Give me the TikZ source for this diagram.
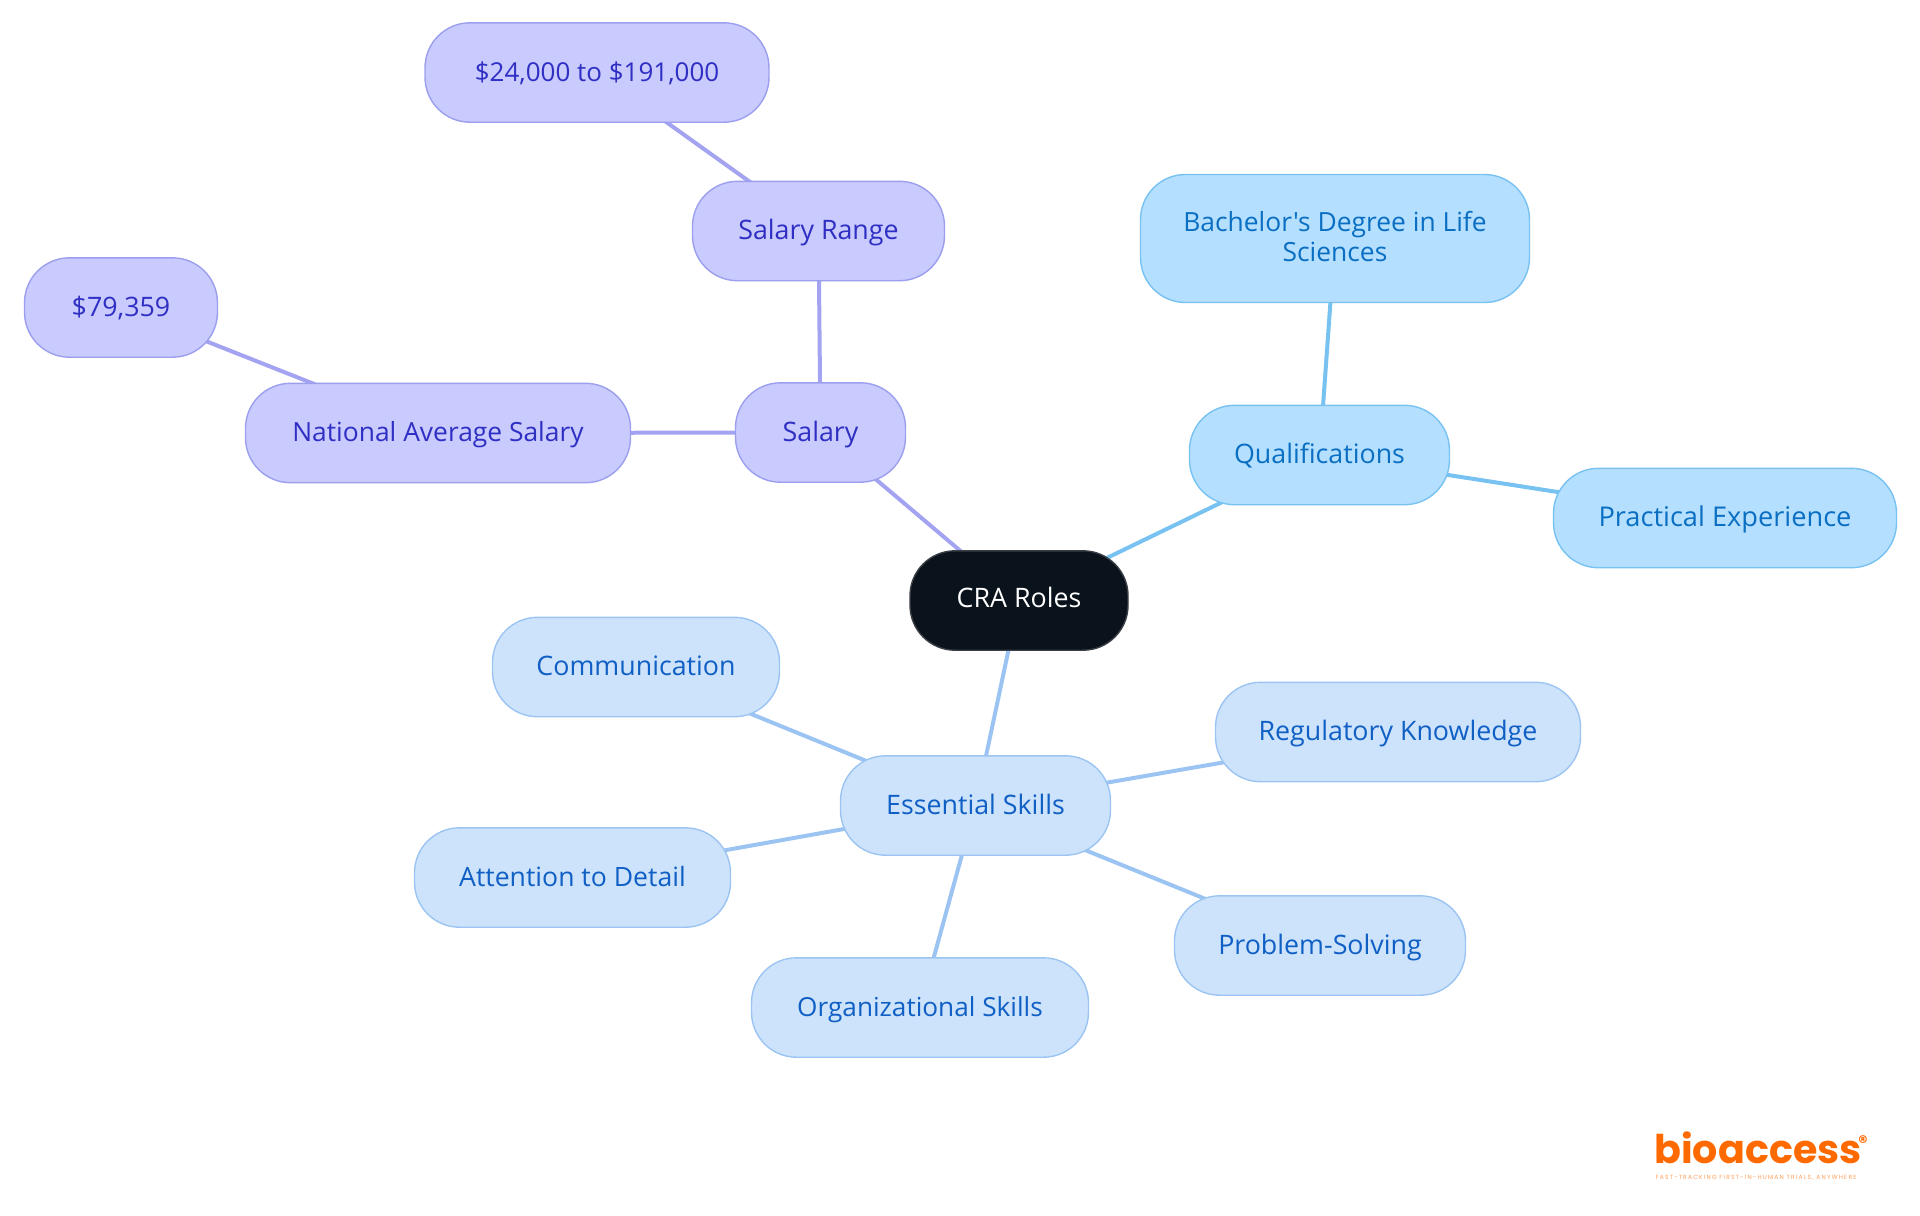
\documentclass[tikz,border=0pt]{standalone}
\usepackage{fontspec}
\newfontfamily\mapfont{Open Sans}
\newfontfamily\logofont{Poppins}
\newfontfamily\tagfont[LetterSpace=20]{Poppins}
\usetikzlibrary{backgrounds}
\definecolor{rootfill}{HTML}{0A121B}
\definecolor{rootline}{HTML}{3A3F46}
\definecolor{payfill}{HTML}{C9CAFD}
\definecolor{payline}{HTML}{9B9FEE}
\definecolor{paytext}{HTML}{2F2FC4}
\definecolor{payedge}{HTML}{A3A3F2}
\definecolor{qualfill}{HTML}{B4DFFF}
\definecolor{qualline}{HTML}{78C2F2}
\definecolor{qualtext}{HTML}{0A6FC2}
\definecolor{qualedge}{HTML}{78C2F2}
\definecolor{skillfill}{HTML}{CDE3FC}
\definecolor{skillline}{HTML}{9CC4F2}
\definecolor{skilltext}{HTML}{0F5FC4}
\definecolor{skilledge}{HTML}{9CC4F2}
\definecolor{logoorange}{HTML}{FF6A00}
\tikzset{
	fontpt/.style={font=\mapfont\fontsize{#1}{15}\selectfont},
	mapbox/.style={rounded corners=22.5pt, minimum height=49.7pt, inner sep=0pt, line width=0.7pt, fontpt=13.4, align=center, text height=11.5pt, text depth=3pt, yshift=-0.25pt},
	rootbox/.style={mapbox, draw=rootline, fill=rootfill, text=white, text height=10pt},
	paybox/.style={mapbox, draw=payline, fill=payfill, text=paytext},
	qualbox/.style={mapbox, draw=qualline, fill=qualfill, text=qualtext},
	skillbox/.style={mapbox, draw=skillline, fill=skillfill, text=skilltext},
	payedgeline/.style={line width=2pt, color=payedge},
	qualedgeline/.style={line width=2pt, color=qualedge},
	skilledgeline/.style={line width=2pt, color=skilledge}
}
\begin{document}
\begin{tikzpicture}[x=0.5pt, y=-0.5pt]
		%%%%% START %%%%%
		\useasboundingbox (0, 0) rectangle (1920, 1215);
		
		\node[rootbox, minimum width=109pt] (roles) at (1019, 600) {CRA Roles};
		
		\node[paybox, minimum width=85pt] (salary) at (820.5, 432) {Salary};
		\node[paybox, minimum width=126pt] (range) at (818.5, 230.5) {Salary Range};
		\node[paybox, minimum width=172pt, fontpt=13] (spread) at (597, 72) {\$24,000 to \$191,000};
		\node[paybox, minimum width=192.5pt, fontpt=13.2] (national) at (438, 432.5) {National Average Salary};
		\node[paybox, minimum width=96.5pt] (average) at (121, 307) {\$79,359};
		
		\node[qualbox, minimum width=130pt] (quals) at (1319.5, 454.5) {Qualifications};
		\node[qualbox, minimum width=194.5pt, minimum height=64pt, text height=25.5pt, text depth=3pt, fontpt=13.2] (degree) at (1335, 238) {Bachelor's Degree in Life\\Sciences};
		\node[qualbox, minimum width=171.5pt, fontpt=13.6] (practice) at (1725, 517.5) {Practical Experience};
		
		\node[skillbox, minimum width=135pt] (skills) at (975.5, 805) {Essential Skills};
		\node[skillbox, minimum width=143.5pt] (comms) at (636, 666.5) {Communication};
		\node[skillbox, minimum width=182.5pt] (rules) at (1398, 731.5) {Regulatory Knowledge};
		\node[skillbox, minimum width=158pt, fontpt=13.3] (detail) at (572.5, 877) {Attention to Detail};
		\node[skillbox, minimum width=168.5pt, fontpt=13.1] (organize) at (920, 1007) {Organizational Skills};
		\node[skillbox, minimum width=145.5pt] (solving) at (1320, 945) {Problem-Solving};
		
		% connectors run centre to centre under the boxes
		\begin{scope}[on background layer]
			\draw[payedgeline] (roles.center) -- (salary.center);
			\draw[payedgeline] (salary.center) -- (range.center);
			\draw[payedgeline] (range.center) -- (spread.center);
			\draw[payedgeline] (salary.center) -- (national.center);
			\draw[payedgeline] (national.center) -- (average.center);
			
			\draw[qualedgeline] (roles.center) -- (quals.center);
			\draw[qualedgeline] (quals.center) -- (degree.center);
			\draw[qualedgeline] (quals.center) -- (practice.center);
			
			\draw[skilledgeline] (roles.center) -- (skills.center);
			\draw[skilledgeline] (skills.center) -- (comms.center);
			\draw[skilledgeline] (skills.center) -- (rules.center);
			\draw[skilledgeline] (skills.center) -- (detail.center);
			\draw[skilledgeline] (skills.center) -- (organize.center);
			\draw[skilledgeline] (skills.center) -- (solving.center);
		\end{scope}
		
		\node[text=logoorange, inner sep=0pt, anchor=base west, font=\logofont\bfseries\fontsize{19.8}{20}\selectfont] (logo) at (1654, 1163) {bioaccess};
		\node[text=logoorange, inner sep=0pt, font=\logofont\bfseries\fontsize{9}{9}\selectfont] (mark) at (1863, 1142) {®};
		\node[text=logoorange!65, inner sep=0pt, font=\tagfont\fontsize{3}{3}\selectfont] (tagline) at (1756, 1178) {FAST-TRACKING FIRST-IN-HUMAN TRIALS, ANYWHERE};
		
		%%%%% END %%%%%
	\end{tikzpicture}
\end{document}
